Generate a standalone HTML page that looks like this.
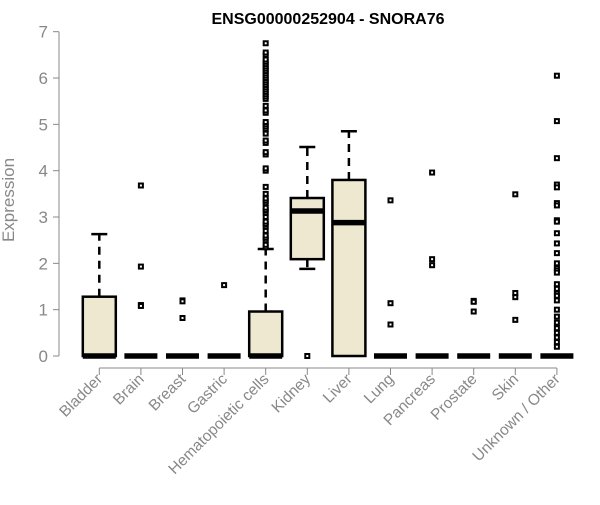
<!DOCTYPE html>
<html><head><meta charset="utf-8"><style>
body{margin:0;background:#fff}
svg{font-family:"Liberation Sans",Arial,sans-serif}
</style></head><body>
<svg id="c" width="600" height="500">
<text x="328" y="24" text-anchor="middle" font-weight="bold" font-size="16">ENSG00000252904 - SNORA76</text>
<text transform="translate(14,200) rotate(-90)" text-anchor="middle" font-size="17" fill="#888">Expression</text>
</svg>
<script>
const categories=["Bladder","Brain","Breast","Gastric","Hematopoietic cells","Kidney","Liver","Lung","Pancreas","Prostate","Skin","Unknown / Other"];
const q1=[0,0,0,0,0,2.09,0,0,0,0,0,0];
const medians=[0,0,0,0,0,3.13,2.88,0,0,0,0,0];
const q3=[1.28,0,0,0,0.96,3.41,3.8,0,0,0,0,0];
const whiskLo=[0,0,0,0,0,1.88,0,0,0,0,0,0];
const whiskHi=[2.63,0,0,0,2.31,4.51,4.85,0,0,0,0,0];
const outliers=[[],[3.68,1.93,1.1,1.08],[1.2,1.18,0.82],[1.53],
[2.35,2.4,2.5,2.55,2.6,2.7,2.8,2.85,2.9,3.0,3.1,3.15,3.2,3.3,3.35,3.4,3.5,3.65,4.0,4.05,4.35,4.4,4.6,4.65,4.8,4.9,4.95,5.0,5.05,5.25,5.3,5.4,5.55,5.6,5.65,5.7,5.75,5.8,5.85,5.9,5.95,6.0,6.05,6.1,6.15,6.2,6.25,6.3,6.35,6.4,6.5,6.55,6.75],
[0],[],[3.36,1.14,0.68],[3.96,2.09,1.96],[1.19,1.17,0.96],[3.49,1.36,1.27,0.78],
[6.05,5.07,4.27,3.7,3.64,3.3,3.25,2.93,2.9,2.65,2.43,2.22,2.0,1.9,1.85,1.8,1.55,1.45,1.35,1.3,1.2,1.0,0.85,0.72,0.6,0.5,0.4,0.3,0.2]];
const yTicks=[0,1,2,3,4,5,6,7];
const svg=document.getElementById('c');const NS='http://www.w3.org/2000/svg';
const y=v=>356-v*46.33;const x=i=>99.3+i*41.6;const bw=33;
function mk(t,a){const e=document.createElementNS(NS,t);for(const k in a)e.setAttribute(k,a[k]);svg.appendChild(e);return e;}
let e=mk('line',{x1:59,x2:59,y1:y(0),y2:y(7),stroke:'#888'});


yTicks.forEach(t=>{mk('line',{x1:53,x2:59,y1:y(t),y2:y(t),stroke:'#888'});
const tx=mk('text',{x:48,y:y(t)+6,'text-anchor':'end','font-size':17,fill:'#888'});tx.textContent=t;

});
e=mk('line',{x1:x(0),x2:x(11),y1:368,y2:368,stroke:'#888'});


categories.forEach((c,i)=>{const cx=x(i);
mk('line',{x1:cx,x2:cx,y1:368,y2:375,stroke:'#888'});
const tx=mk('text',{transform:`translate(${cx+4},${380}) rotate(-45)`,'text-anchor':'end','font-size':15.5,fill:'#888'});tx.textContent=c;


const g=document.createElementNS(NS,'g');svg.appendChild(g);


const add=(t,a)=>{const el=document.createElementNS(NS,t);for(const k in a)el.setAttribute(k,a[k]);g.appendChild(el);return el;};
if(whiskHi[i]>q3[i]){add('line',{x1:cx,x2:cx,y1:y(q3[i]),y2:y(whiskHi[i]),stroke:'#000','stroke-width':2.5,'stroke-dasharray':'8,6'});
add('line',{x1:cx-8,x2:cx+8,y1:y(whiskHi[i]),y2:y(whiskHi[i]),stroke:'#000','stroke-width':2.5});}
if(whiskLo[i]<q1[i]){add('line',{x1:cx,x2:cx,y1:y(q1[i]),y2:y(whiskLo[i]),stroke:'#000','stroke-width':2.5,'stroke-dasharray':'8,6'});
add('line',{x1:cx-8,x2:cx+8,y1:y(whiskLo[i]),y2:y(whiskLo[i]),stroke:'#000','stroke-width':2.5});}
if(q3[i]>q1[i])add('rect',{x:cx-bw/2,y:y(q3[i]),width:bw,height:y(q1[i])-y(q3[i]),fill:'#ede8cf',stroke:'#000','stroke-width':2.5});
add('line',{x1:cx-bw/2,x2:cx+bw/2,y1:y(medians[i]),y2:y(medians[i]),stroke:'#000','stroke-width':5.5});
outliers[i].forEach(v=>add('rect',{x:cx-2,y:y(v)-2,width:4,height:4,fill:'#fff',stroke:'#000','stroke-width':2}));
});
</script>
</body></html>
